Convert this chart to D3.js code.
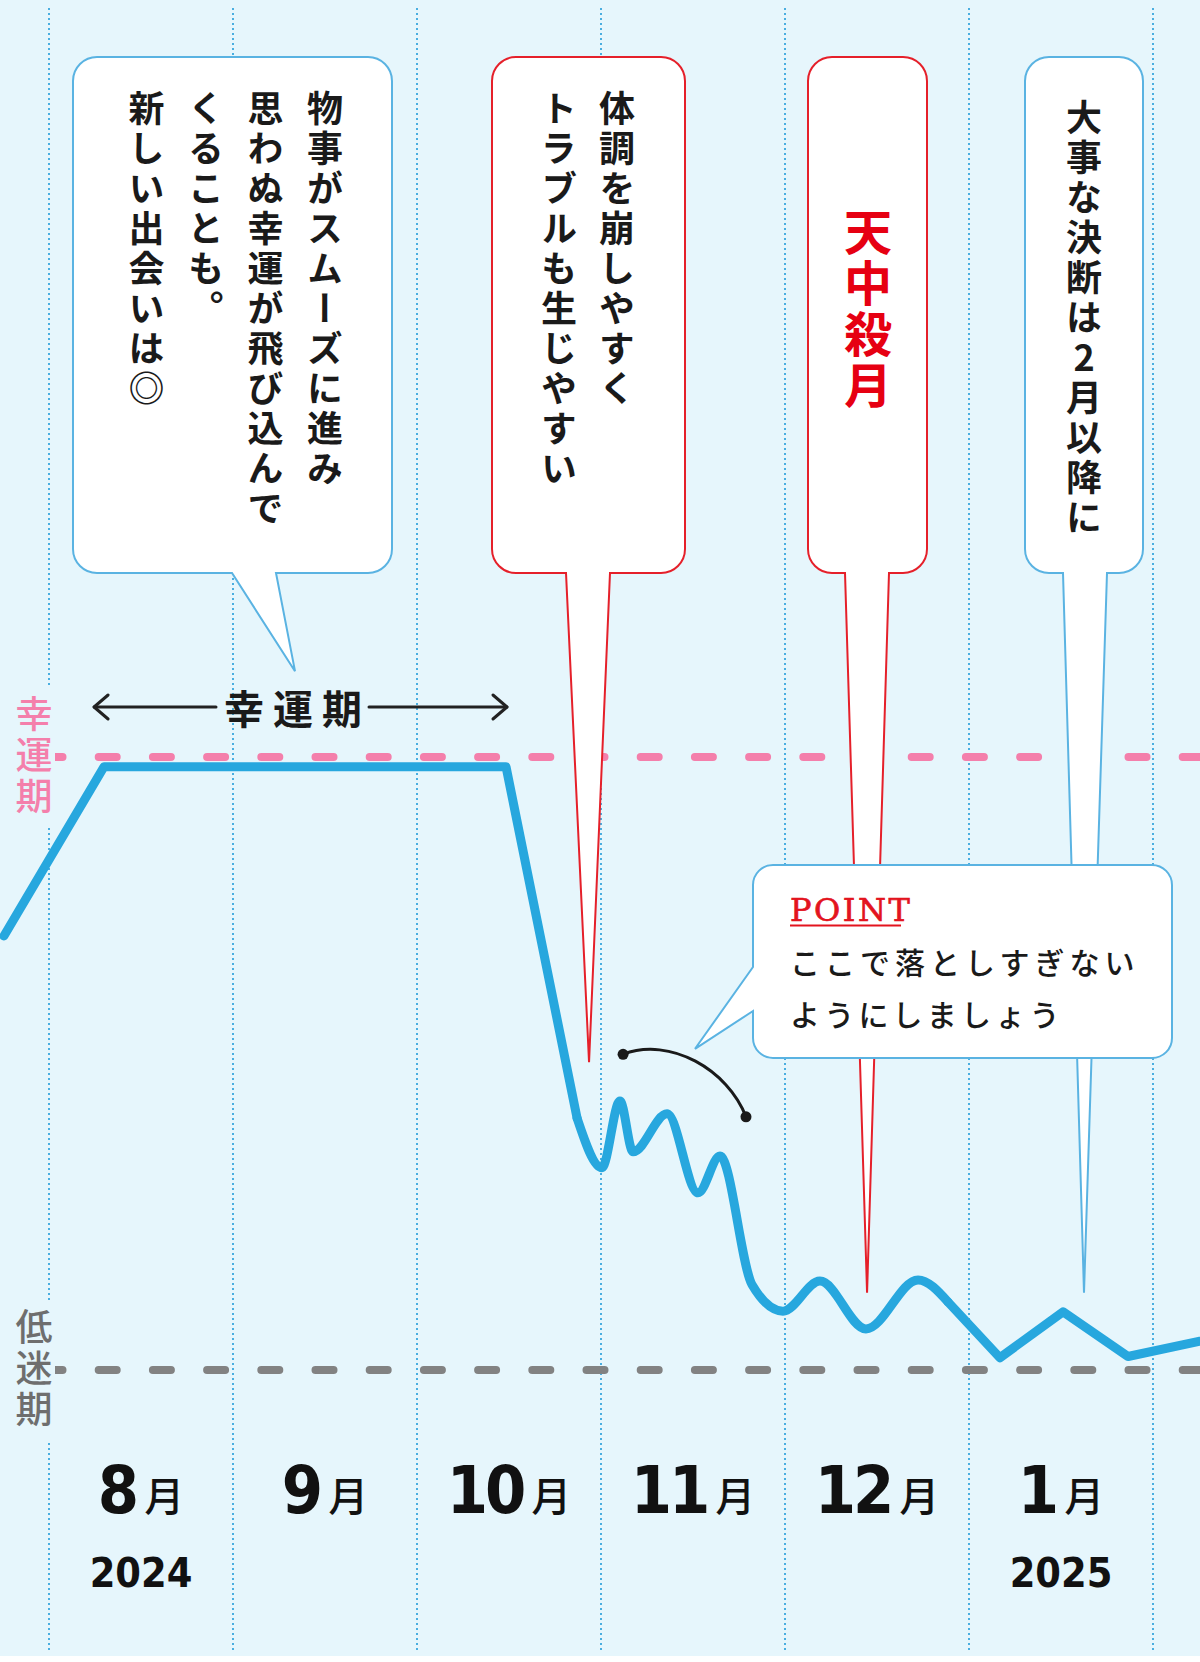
<!DOCTYPE html>
<html><head><meta charset="utf-8">
<script src="https://cdn.jsdelivr.net/npm/d3@7"></script>
<style>
html,body{margin:0;padding:0;background:#fff;}
svg{display:block;}
</style></head><body>
<svg id="chart" width="1200" height="1662"></svg>
<script>
// ---------- data ----------
// months along the x axis (index 0 = Aug 2024)
const monthNums = ["8","9","10","11","12","1"];
const yearLabels = ["2024","","","","","2025"];
// fortune curve: t = months since 1 Aug 2024, v = fortune level (0 = 低迷期 line, 100 = 幸運期 line)
const fortuneT = [-0.245, 0.299, 2.484, 2.870, 3.005, 3.103, 3.174, 3.359, 3.527, 3.647, 3.821, 3.989, 4.190, 4.440, 4.723, 4.886, 5.168, 5.511, 5.864, 6.255];
const fortuneV = [70.8, 98.4, 98.4, 41.1, 33.0, 43.9, 35.6, 41.8, 28.9, 34.9, 13.9, 9.6, 14.5, 6.7, 14.7, 11.1, 2.0, 9.5, 2.2, 4.7];
// which stretch of the curve is drawn smooth (indices)
const smoothRange = [3, 15];
// reference levels
const levelValues = [100, 0];
const levelNames = ["幸運期", "低迷期"];
// lucky period span (months)
const luckySpan = [0.245, 2.489];
const luckyLabel = "幸運期";
// callout texts (vertical columns, right to left)
const note1 = ["物事がスムーズに進み", "思わぬ幸運が飛び込んで", "くることも。", "新しい出会いは◎"];
const note2 = ["体調を崩しやすく", "トラブルも生じやすい"];
const note3 = ["天中殺月"];
const note4 = ["大事な決断は2月以降に"];
const pointTitle = "POINT";
const pointLines = ["ここで落としすぎない", "ようにしましょう"];
// callout pointer targets [t, v]
const noteTargets = [[1.337, 114.0], [2.935, 50.2], [4.446, 12.6], [5.625, 12.6]];
const pointTarget = [3.511, 52.4];
const arcEnds = [[3.12, 51.5], [3.788, 41.3]];

// ---------- setup ----------
const W = 1200, H = 1662;
const svg = d3.select("#chart");
const x = d3.scaleLinear().domain([0, 6]).range([49, 1153]);
const y = d3.scaleLinear().domain([0, 100]).range([1370, 757]);

const JP = "'Noto Sans CJK JP', 'Noto Sans', sans-serif";
const BLUE = "#27a7de", PINK = "#f47fab", GRAY = "#828282", RED = "#e5202a", EDGE = "#5ab3e2";
const BG = "#e6f6fc";

svg.append("rect").attr("width", W).attr("height", 1656).attr("fill", BG);

// vertical dotted gridlines at month boundaries
svg.append("g").selectAll("line").data(d3.range(0, monthNums.length + 1)).join("line")
  .attr("x1", d => x(d)).attr("x2", d => x(d))
  .attr("y1", 8).attr("y2", 1650)
  .attr("stroke", "#4aaee0").attr("stroke-width", 2).attr("stroke-dasharray", "2,3");

// reference level dashed lines
svg.append("g").selectAll("line").data(levelValues).join("line")
  .attr("x1", 44.5).attr("x2", W + 20)
  .attr("y1", d => y(d)).attr("y2", d => y(d))
  .attr("stroke", (d, i) => i === 0 ? PINK : GRAY)
  .attr("stroke-width", 8).attr("stroke-linecap", "round")
  .attr("stroke-dasharray", "18,36.2");

// level labels (vertical) with background
const lvl = svg.append("g");
levelValues.forEach((v, i) => {
  const cy = y(v);
  lvl.append("rect").attr("x", 10).attr("y", cy - 70).attr("width", 45).attr("height", 140).attr("fill", BG);
  lvl.append("text")
    .attr("x", 34).attr("y", cy - 62)
    .style("writing-mode", "vertical-rl").style("text-orientation", "upright")
    .attr("font-family", JP).attr("font-size", 37).attr("letter-spacing", 4)
    .attr("font-weight", 500)
    .attr("fill", i === 0 ? PINK : "#6e6e6e")
    .text(levelNames[i]);
});

// lucky period arrow
const ag = svg.append("g").attr("stroke", "#222").attr("stroke-width", 3).attr("fill", "none").attr("stroke-linecap", "round").attr("stroke-linejoin", "round");
const ay = 707;
const ax0 = x(luckySpan[0]), ax1 = x(luckySpan[1]);
ag.append("line").attr("x1", ax0).attr("x2", 216).attr("y1", ay).attr("y2", ay);
ag.append("line").attr("x1", 369).attr("x2", ax1).attr("y1", ay).attr("y2", ay);
ag.append("path").attr("d", `M${ax0 + 14},${ay - 12} L${ax0},${ay} L${ax0 + 14},${ay + 12}`);
ag.append("path").attr("d", `M${ax1 - 14},${ay - 12} L${ax1},${ay} L${ax1 - 14},${ay + 12}`);
svg.append("text").attr("x", 224).attr("y", ay).attr("dominant-baseline", "central")
  .attr("font-family", JP).attr("font-size", 40).attr("font-weight", 700).attr("letter-spacing", 9)
  .attr("fill", "#1a1a1a").text(luckyLabel);

// fortune line
const pts = fortuneT.map((t, i) => [x(t), y(fortuneV[i])]);
const lineLin = d3.line().curve(d3.curveLinear);
const lineSmooth = d3.line().curve(d3.curveMonotoneX);
const pieces = [
  lineLin(pts.slice(0, smoothRange[0] + 1)),
  lineSmooth(pts.slice(smoothRange[0], smoothRange[1] + 1)),
  lineLin(pts.slice(smoothRange[1]))
];
svg.append("g").selectAll("path").data(pieces).join("path")
  .attr("d", d => d).attr("fill", "none").attr("stroke", BLUE)
  .attr("stroke-width", 9).attr("stroke-linecap", "round").attr("stroke-linejoin", "round");

// callouts
function bottomCallout(b, tip) {
  const { x0, x1, y0, y1, r, tl, tr } = b;
  return `M${x0 + r},${y0} H${x1 - r} A${r},${r} 0 0 1 ${x1},${y0 + r} V${y1 - r} A${r},${r} 0 0 1 ${x1 - r},${y1}` +
    ` H${tr} L${tip[0]},${tip[1]} L${tl},${y1} H${x0 + r} A${r},${r} 0 0 1 ${x0},${y1 - r} V${y0 + r} A${r},${r} 0 0 1 ${x0 + r},${y0} Z`;
}
const boxes = [
  { x0: 73, x1: 392, y0: 57, y1: 573, r: 24, tl: 232, tr: 276, color: EDGE },
  { x0: 492, x1: 685, y0: 57, y1: 573, r: 24, tl: 566, tr: 610, color: RED },
  { x0: 808, x1: 927, y0: 57, y1: 573, r: 24, tl: 845, tr: 889, color: RED },
  { x0: 1025, x1: 1143, y0: 57, y1: 573, r: 24, tl: 1063, tr: 1107, color: EDGE }
];
const cg = svg.append("g");
boxes.forEach((b, i) => {
  const tip = [x(noteTargets[i][0]), y(noteTargets[i][1])];
  cg.append("path").attr("d", bottomCallout(b, tip))
    .attr("fill", "#fff").attr("stroke", b.color).attr("stroke-width", 2).attr("stroke-linejoin", "miter");
});

function vColumns(lines, x0, gap, y0, size, ls, color, weight) {
  cg.append("g").selectAll("text").data(lines).join("text")
    .attr("x", (d, i) => x0 - i * gap).attr("y", y0)
    .style("writing-mode", "vertical-rl").style("text-orientation", "upright")
    .attr("font-family", JP).attr("font-size", size).attr("letter-spacing", ls)
    .attr("font-weight", weight).attr("fill", color)
    .text(d => d);
}
vColumns(note1, 325, 59.5, 90, 36, 4, "#1a1a1a", 700);
vColumns(note2, 617, 58, 90, 36, 4, "#1a1a1a", 700);
vColumns(note3, 868, 0, 208, 48, 3, "#e60012", 700);
vColumns(note4, 1084, 0, 99, 36, 4, "#1a1a1a", 700);

// POINT callout
const pb = { x0: 753, x1: 1172, y0: 865, y1: 1058, r: 20, tt: 967, tb: 1011 };
const ptip = [x(pointTarget[0]), y(pointTarget[1])];
const pd = `M${pb.x0 + pb.r},${pb.y0} H${pb.x1 - pb.r} A${pb.r},${pb.r} 0 0 1 ${pb.x1},${pb.y0 + pb.r} V${pb.y1 - pb.r} A${pb.r},${pb.r} 0 0 1 ${pb.x1 - pb.r},${pb.y1}` +
  ` H${pb.x0 + pb.r} A${pb.r},${pb.r} 0 0 1 ${pb.x0},${pb.y1 - pb.r} V${pb.tb} L${ptip[0]},${ptip[1]} L${pb.x0},${pb.tt} V${pb.y0 + pb.r} A${pb.r},${pb.r} 0 0 1 ${pb.x0 + pb.r},${pb.y0} Z`;
svg.append("path").attr("d", pd).attr("fill", "#fff").attr("stroke", EDGE).attr("stroke-width", 2);
svg.append("text").attr("x", 790).attr("y", 921)
  .attr("font-family", "'DejaVu Serif', serif").attr("font-size", 32).attr("letter-spacing", 2.5)
  .attr("fill", "#e3141e").attr("stroke", "#e3141e").attr("stroke-width", 0.7).text(pointTitle);
svg.append("line").attr("x1", 790).attr("x2", 901).attr("y1", 925.5).attr("y2", 925.5)
  .attr("stroke", "#e3141e").attr("stroke-width", 2);
svg.append("g").selectAll("text").data(pointLines).join("text")
  .attr("x", 790).attr("y", (d, i) => 961 + i * 52).attr("dominant-baseline", "central")
  .attr("font-family", JP).attr("font-size", 30).attr("letter-spacing", (d, i) => i === 0 ? 5 : 4.2).attr("font-weight", 500)
  .attr("fill", "#1a1a1a").text(d => d);

// arc marker
const a0 = [x(arcEnds[0][0]), y(arcEnds[0][1])], a1 = [x(arcEnds[1][0]), y(arcEnds[1][1])];
svg.append("path")
  .attr("d", `M${a0[0]},${a0[1]} C${a0[0] + 47},${a0[1] - 18} ${a1[0] - 18},${a1[1] - 47} ${a1[0]},${a1[1]}`)
  .attr("fill", "none").attr("stroke", "#1a1a1a").attr("stroke-width", 3);
svg.append("g").selectAll("circle").data([a0, a1]).join("circle")
  .attr("cx", d => d[0]).attr("cy", d => d[1]).attr("r", 5.5).attr("fill", "#1a1a1a");

// month labels
const ml = svg.append("g");
monthNums.forEach((m, i) => {
  const t = ml.append("text").attr("x", x(i + 0.5)).attr("y", 1513).attr("text-anchor", "middle").attr("fill", "#111");
  t.append("tspan").attr("font-family", "'DejaVu Sans Condensed', 'DejaVu Sans', sans-serif").attr("font-weight", 700)
    .attr("font-size", 66).attr("letter-spacing", -3).text(m);
  t.append("tspan").attr("dx", 8).attr("dy", -2).attr("font-family", JP).attr("font-weight", 500).attr("font-size", 40).text("月");
  if (yearLabels[i]) {
    ml.append("text").attr("x", x(i + 0.5)).attr("y", 1587).attr("text-anchor", "middle")
      .attr("font-family", "'DejaVu Sans Condensed', 'DejaVu Sans', sans-serif").attr("font-weight", 700)
      .attr("font-size", 41).attr("fill", "#111").text(yearLabels[i]);
  }
});
</script>
</body></html>
